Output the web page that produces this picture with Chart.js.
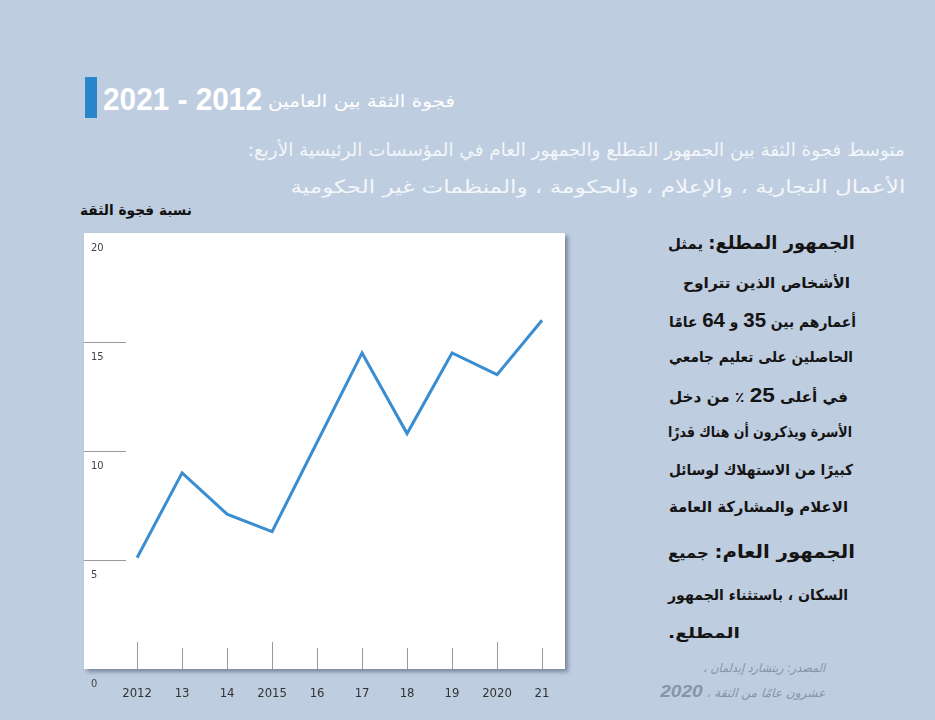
<!DOCTYPE html>
<html>
<head>
<meta charset="utf-8">
<script src="https://cdn.jsdelivr.net/npm/chart.js@4.4.1/dist/chart.umd.min.js"></script>
<style>
  body { margin: 0; width: 935px; height: 720px; overflow: hidden; position: relative;
         background: #bfcde0; font-family: "DejaVu Sans Condensed", "DejaVu Sans", sans-serif; }
  .t { position: absolute; white-space: nowrap; direction: rtl; line-height: 30px; height: 30px; }
  .l { transform-origin: left center; }
  .r { transform-origin: right center; }
  .num { font-family: "Liberation Sans", Arial, sans-serif; font-weight: bold; }
  .side { color: #141414; font-weight: bold; font-size: 15px; }
  .head { font-size: 18px; }
  .src { color: #8794aa; font-style: italic; font-size: 12px; }
  #bar { position: absolute; left: 85px; top: 77px; width: 12px; height: 41px; background: #2a86cc; }
  #chartBox { position: absolute; left: 0; top: 200px; width: 600px; height: 520px; }
</style>
</head>
<body>
<div id="bar"></div>
<div class="t l" data-w="159" style="left:103px;top:80px;color:#fff;font-family:'Liberation Sans',sans-serif;font-weight:bold;font-size:32px;line-height:38px;height:38px">2012 - 2021</div>
<div class="t l" data-w="187" style="left:268px;top:86px;color:#fff;font-size:17px">فجوة الثقة بين العامين</div>
<div class="t r" data-w="657" style="right:30px;top:135px;color:#f3f6fa;font-size:18px">متوسط فجوة الثقة بين الجمهور المَطلع والجمهور العام في المؤسسات الرئيسية الأربع:</div>
<div class="t r" data-w="615" style="right:30px;top:172px;color:#f3f6fa;font-size:18px">الأعمال التجارية ، والإعلام ، والحكومة ، والمنظمات غير الحكومية</div>
<div class="t l" data-w="112" style="left:80px;top:195px;color:#111;font-weight:bold;font-size:14px">نسبة فجوة الثقة</div>

<div class="t l side" data-w="187" style="left:668px;top:228px"><span class="head">الجمهور المطلع:</span> يمثل</div>
<div class="t l side" data-w="167" style="left:683px;top:268px">الأشخاص الذين تتراوح</div>
<div class="t l side" data-w="187" style="left:669px;top:305px">أعمارهم بين <span class="num" style="font-size:20px">35</span> و <span class="num" style="font-size:20px">64</span> عامًا</div>
<div class="t l side" data-w="184" style="left:669px;top:342px">الحاصلين على تعليم جامعي</div>
<div class="t l side" data-w="179" style="left:669px;top:380px">في أعلى <span class="num" style="font-size:20px">25</span> ٪ من دخل</div>
<div class="t l side" data-w="184" style="left:668px;top:417px">الأسرة ويذكرون أن هناك قدرًا</div>
<div class="t l side" data-w="184" style="left:669px;top:455px">كبيرًا من الاستهلاك لوسائل</div>
<div class="t l side" data-w="179" style="left:669px;top:492px">الاعلام والمشاركة العامة</div>
<div class="t l side" data-w="187" style="left:668px;top:537px"><span class="head">الجمهور العام:</span> جميع</div>
<div class="t l side" data-w="180" style="left:668px;top:580px">السكان ، باستثناء الجمهور</div>
<div class="t l side" data-w="72" style="left:668px;top:618px">المطلع.</div>
<div class="t r src" data-w="122" style="right:110px;top:653px">المصدر: ريتشارد إيدلمان ،</div>
<div class="t r src" data-w="165" style="right:110px;top:677px">عشرون عامًا من الثقة ، <span class="num" style="font-size:17px;font-style:italic">2020</span></div>

<div id="chartBox"><canvas id="gap"></canvas></div>

<script>
const years = [2012, 2013, 2014, 2015, 2016, 2017, 2018, 2019, 2020, 2021];
const xLabels = ["2012", "13", "14", "2015", "16", "17", "18", "19", "2020", "21"];
const trustGap = [5.1, 9.0, 7.1, 6.3, 10.4, 14.5, 10.8, 14.5, 13.5, 16.0];
const yTicks = [0, 5, 10, 15, 20];
const gridStubs = [5, 10, 15];

// squeeze the text lines to the widths seen in the picture
document.querySelectorAll("[data-w]").forEach((el) => {
  const w = el.getBoundingClientRect().width;
  el.style.transform = "scaleX(" + el.dataset.w / w + ")";
});

const panelPlugin = {
  id: "panel",
  beforeDraw(chart) {
    const { ctx, chartArea: a } = chart;
    ctx.save();
    ctx.shadowColor = "rgba(70,80,100,0.55)";
    ctx.shadowOffsetX = 3;
    ctx.shadowOffsetY = 3;
    ctx.shadowBlur = 4;
    ctx.fillStyle = "#ffffff";
    ctx.fillRect(a.left, a.top, a.right - a.left, a.bottom - a.top);
    ctx.restore();
  },
  beforeDatasetsDraw(chart) {
    const { ctx, chartArea: a, scales } = chart;
    ctx.save();
    ctx.strokeStyle = "#9a9a9a";
    ctx.lineWidth = 1;
    gridStubs.forEach((v) => {
      const y = Math.round(scales.y.getPixelForValue(v)) + 0.5;
      ctx.beginPath();
      ctx.moveTo(a.left, y);
      ctx.lineTo(a.left + 42, y);
      ctx.stroke();
    });
    years.forEach((yr, i) => {
      const x = Math.round(scales.x.getPixelForValue(yr)) + 0.5;
      const h = xLabels[i].length === 4 ? 27 : 21;
      ctx.beginPath();
      ctx.moveTo(x, a.bottom);
      ctx.lineTo(x, a.bottom - h);
      ctx.stroke();
    });
    ctx.restore();
  },
};

new Chart(document.getElementById("gap"), {
  type: "line",
  data: {
    datasets: [
      {
        data: years.map((yr, i) => ({ x: yr, y: trustGap[i] })),
        borderColor: "#3a8dd0",
        borderWidth: 3,
        pointRadius: 0,
        tension: 0,
      },
    ],
  },
  options: {
    responsive: true,
    maintainAspectRatio: false,
    animation: false,
    layout: { padding: { left: 84, top: 33, right: 35, bottom: 0 } },
    plugins: { legend: { display: false }, tooltip: { enabled: false } },
    scales: {
      x: {
        type: "linear",
        min: 2010.82,
        max: 2021.51,
        grid: { display: false, drawTicks: false },
        border: { display: false },
        afterBuildTicks: (s) => { s.ticks = years.map((v) => ({ value: v })); },
        afterFit: (s) => { s.height = 51; },
        ticks: {
          autoSkip: false,
          maxRotation: 0,
          padding: 17,
          color: "#333",
          font: { family: "'Liberation Sans Narrow', 'DejaVu Sans Condensed', sans-serif", size: 13 },
          callback: (v, i) => xLabels[i],
        },
      },
      y: {
        min: 0,
        max: 20,
        grid: { display: false, drawTicks: false },
        border: { display: false },
        afterBuildTicks: (s) => { s.ticks = yTicks.map((v) => ({ value: v })); },
        afterFit: (s) => { s.width = 0; },
        ticks: {
          mirror: true,
          padding: 7,
          labelOffset: 15,
          color: "#444",
          font: { family: "'DejaVu Sans Condensed', sans-serif", size: 11 },
        },
      },
    },
  },
  plugins: [panelPlugin],
});
</script>
</body>
</html>
